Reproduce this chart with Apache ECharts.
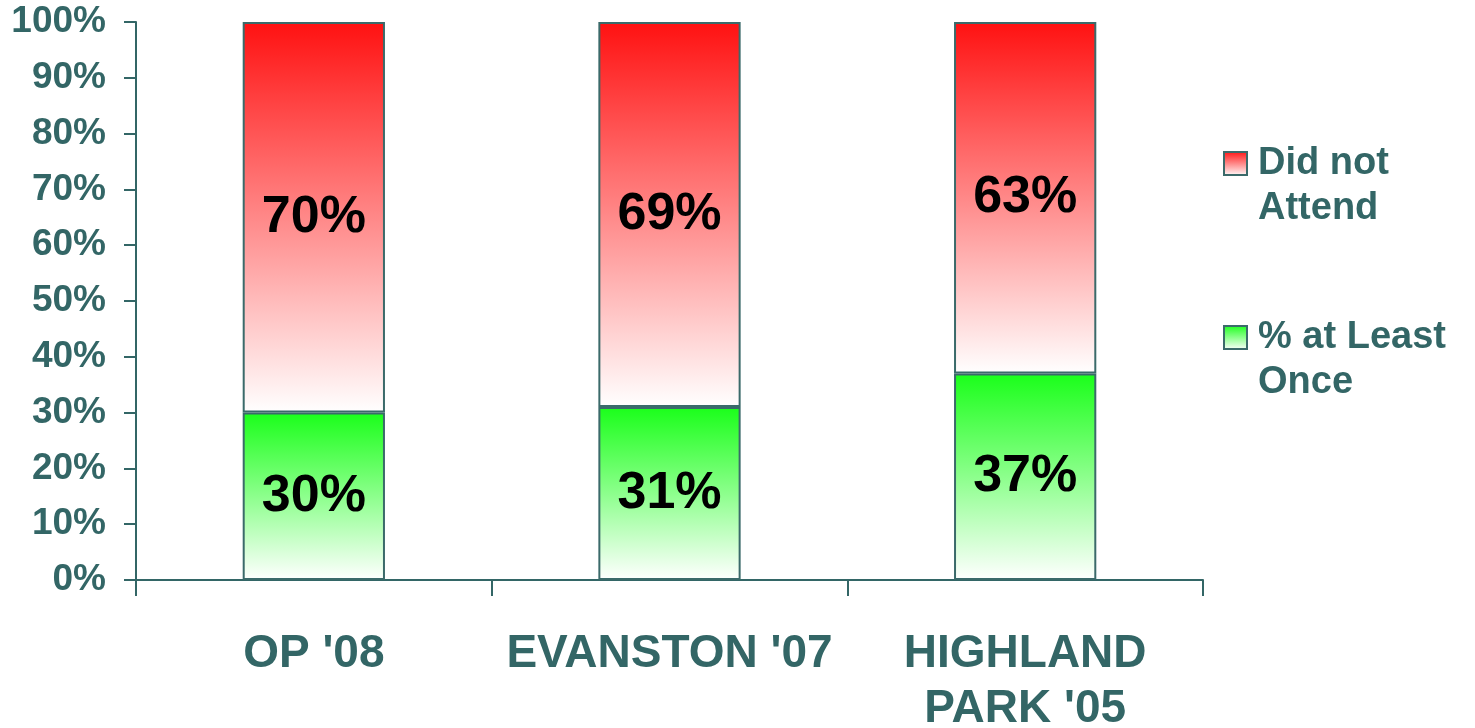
<!DOCTYPE html>
<html>
<head>
<meta charset="utf-8">
<script src="https://cdn.jsdelivr.net/npm/echarts@6/dist/echarts.min.js"></script>
<style>
html,body{margin:0;padding:0;background:#fff;}
#chart{width:1475px;height:728px;}
</style>
</head>
<body>
<div id="chart"></div>
<script>
const categories = ["OP '08", "EVANSTON '07", "HIGHLAND\nPARK '05"];
const atLeastOnce = [30, 31, 37];
const didNotAttend = [70, 69, 63];
const seriesNames = ["% at Least\nOnce", "Did not\nAttend"];

const teal = '#336666';
const font = '"Liberation Sans", Arial, sans-serif';

function grad(top) {
  return new echarts.graphic.LinearGradient(0, 0, 0, 1, [
    { offset: 0, color: top },
    { offset: 1, color: '#ffffff' }
  ]);
}

const chart = echarts.init(document.getElementById('chart'));
chart.setOption({
  animation: false,
  textStyle: { fontFamily: font },
  grid: { left: 136, right: 272, top: 22, bottom: 148, containLabel: false, outerBoundsMode: 'none' },
  legend: {
    data: [seriesNames[1], seriesNames[0]],
    orient: 'vertical',
    left: 1223,
    top: 96,
    padding: 0,
    itemWidth: 23,
    itemHeight: 23,
    itemGap: 39,
    icon: 'rect',
    formatter: function (name) { return '\n' + name; },
    textStyle: {
      color: teal, fontSize: 38, fontWeight: 'bold', fontFamily: font,
      lineHeight: 45, padding: [0, 0, 0, 6]
    }
  },
  xAxis: {
    type: 'category',
    data: categories,
    axisLine: { show: true, lineStyle: { color: teal, width: 2 } },
    axisTick: { show: true, length: 16, lineStyle: { color: teal, width: 2 } },
    axisLabel: {
      color: teal, fontSize: 46, fontWeight: 'bold', fontFamily: font,
      margin: 47, lineHeight: 55, interval: 0
    }
  },
  yAxis: {
    type: 'value',
    min: 0, max: 100, interval: 10,
    axisLine: { show: true, lineStyle: { color: teal, width: 2 } },
    axisTick: { show: true, length: 12, lineStyle: { color: teal, width: 2 } },
    splitLine: { show: false },
    axisLabel: {
      formatter: '{value}%', color: teal, fontSize: 37, fontWeight: 'bold',
      fontFamily: font, margin: 30
    }
  },
  series: [
    {
      name: seriesNames[0], type: 'bar', stack: 'a', data: atLeastOnce,
      barWidth: '40%',
      itemStyle: { color: grad('#1aff1a'), borderColor: '#3b6a6a', borderWidth: 2 },
      label: { show: true, position: 'inside', formatter: '{c}%', color: '#000',
        fontSize: 52, fontWeight: 'bold', fontFamily: font }
    },
    {
      name: seriesNames[1], type: 'bar', stack: 'a', data: didNotAttend,
      barWidth: '40%',
      itemStyle: { color: grad('#ff1111'), borderColor: '#3b6a6a', borderWidth: 2 },
      label: { show: true, position: 'inside', formatter: '{c}%', color: '#000',
        fontSize: 52, fontWeight: 'bold', fontFamily: font }
    }
  ]
});
</script>
</body>
</html>
